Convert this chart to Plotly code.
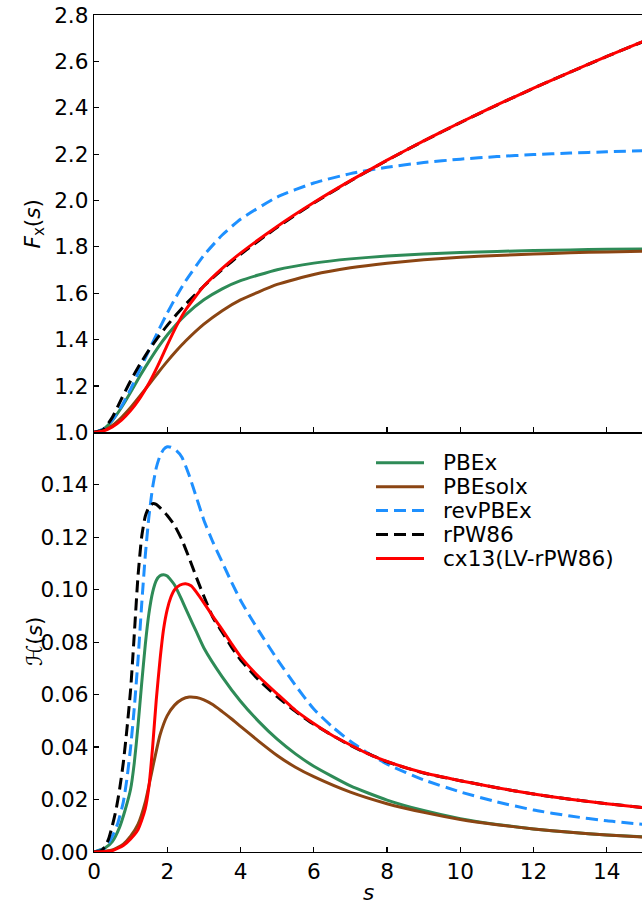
import plotly.graph_objects as go
from plotly.subplots import make_subplots

# ---------------- top panel: F_x(s) ----------------
s_top = [0, 0.25, 0.5, 0.75, 1.0, 1.25, 1.5, 1.75, 2.0, 2.25, 2.5, 3.0, 3.5, 4.0, 5, 6, 7, 8, 9, 10, 11, 12, 13, 14, 15]
F_pbe = [1.0, 1.0135, 1.0514, 1.1070, 1.1724, 1.2418, 1.3059, 1.3666, 1.4197, 1.4665, 1.5069, 1.5714, 1.6189, 1.6542,
         1.7013, 1.7298, 1.7481, 1.7605, 1.7692, 1.7756, 1.7804, 1.7841, 1.7869, 1.7893, 1.7911]
F_pbesol = [1.0, 1.0076, 1.0297, 1.0639, 1.1070, 1.1560, 1.2064, 1.2571, 1.3059, 1.3516, 1.3937, 1.4665, 1.5249, 1.5714,
            1.6378, 1.6808, 1.7097, 1.7297, 1.7442, 1.7548, 1.7629, 1.7692, 1.7742, 1.7781, 1.7814]
F_revpbe = [1.0, 1.0136, 1.0526, 1.1123, 1.1866, 1.2701, 1.3536, 1.4360, 1.5149, 1.5865, 1.6527, 1.7637, 1.8510, 1.9192,
            2.0148, 2.0755, 2.1158, 2.1436, 2.1635, 2.1782, 2.1893, 2.1978, 2.2046, 2.2100, 2.2144]
F_rpw86 = [1.0, 1.0113, 1.0644, 1.1443, 1.2224, 1.2923, 1.3545, 1.4104, 1.4614, 1.5083, 1.5519, 1.6312, 1.7024, 1.7675,
           1.8845, 1.9889, 2.0843, 2.1731, 2.2566, 2.3359, 2.4117, 2.4841, 2.5539, 2.6211, 2.6861]
F_cx13 = [1.0, 1.0059, 1.0236, 1.0528, 1.0937, 1.1465, 1.2117, 1.2898, 1.3761, 1.4582, 1.5276, 1.6306, 1.7074, 1.7728,
          1.8880, 1.9910, 2.0855, 2.1739, 2.2572, 2.3364, 2.4120, 2.4843, 2.5540, 2.6212, 2.6862]

# ---------------- bottom panel: H(s) ----------------
s_pbe = [0, 0.3, 0.5, 0.7, 0.85, 1.0, 1.1, 1.2, 1.3, 1.4, 1.5, 1.6, 1.7, 1.8, 1.9, 2.0, 2.2, 2.4, 2.6, 2.8, 3.0,
         3.5, 4.0, 4.5, 5, 5.5, 6, 7, 8, 9, 10, 11, 12, 13, 14, 15]
H_pbe = [0, 0.0015, 0.004, 0.0095, 0.016, 0.024, 0.034, 0.048, 0.064, 0.079, 0.091, 0.099, 0.1035, 0.1053, 0.1057,
         0.1052, 0.1018, 0.0960, 0.0898, 0.0838, 0.0778, 0.0668, 0.0575, 0.0497, 0.0430, 0.0374, 0.0327, 0.0252,
         0.0198, 0.0158, 0.0127, 0.0105, 0.0088, 0.0075, 0.0065, 0.0058]

s_pbesol = [0, 0.5, 0.8, 1.0, 1.2, 1.4, 1.6, 1.8, 2.0, 2.2, 2.4, 2.6, 2.8, 3.0, 3.25, 3.5, 3.75, 4.0, 4.5, 5, 5.5,
            6, 7, 8, 9, 10, 11, 12, 13, 14, 15]
H_pbesol = [0, 0.0008, 0.003, 0.006, 0.0105, 0.019, 0.032, 0.0445, 0.0520, 0.0560, 0.0582, 0.0591, 0.0589, 0.0580,
            0.0561, 0.0535, 0.0508, 0.0479, 0.0422, 0.0368, 0.0323, 0.0287, 0.0228, 0.0184, 0.0151, 0.0124, 0.0104,
            0.0088, 0.0075, 0.0065, 0.0057]

s_revpbe = [0, 0.3, 0.5, 0.65, 0.8, 0.9, 1.0, 1.1, 1.2, 1.3, 1.4, 1.5, 1.6, 1.7, 1.8, 1.9, 2.0, 2.1, 2.25, 2.4, 2.6,
            2.8, 3.0, 3.25, 3.5, 3.75, 4.0, 4.25, 4.5, 5, 5.5, 6, 6.5, 7, 7.5, 8, 9, 10, 11, 12, 13, 14, 15]
H_revpbe = [0, 0.0015, 0.006, 0.011, 0.019, 0.028, 0.040, 0.055, 0.073, 0.094, 0.113, 0.128, 0.139, 0.1465, 0.151,
            0.1535, 0.1545, 0.1543, 0.1530, 0.1505, 0.1435, 0.1350, 0.1265, 0.1180, 0.1105, 0.1030, 0.0960, 0.0900,
            0.0843, 0.0735, 0.0635, 0.0545, 0.0478, 0.0422, 0.0375, 0.0335, 0.0275, 0.0229, 0.0191, 0.0160, 0.0137,
            0.0119, 0.0105]

s_rpw86 = [0, 0.2, 0.3, 0.4, 0.5, 0.6, 0.7, 0.8, 0.9, 1.0, 1.1, 1.2, 1.3, 1.4, 1.5, 1.6, 1.7, 1.8, 2.0, 2.2, 2.4,
           2.6, 2.8, 3.0, 3.25, 3.5, 3.75, 4.0, 4.5, 5, 5.5, 6, 7, 8, 9, 10, 11, 12, 13, 14, 15]
H_rpw86 = [0, 0.0005, 0.002, 0.005, 0.010, 0.016, 0.024, 0.034, 0.047, 0.062, 0.083, 0.105, 0.120, 0.128, 0.1315,
           0.1328, 0.1325, 0.1313, 0.1283, 0.1245, 0.1190, 0.1120, 0.1045, 0.0975, 0.0893, 0.0838, 0.0782, 0.0733,
           0.0655, 0.0592, 0.0536, 0.0487, 0.0406, 0.0344, 0.0301, 0.0272, 0.0245, 0.0221, 0.0201, 0.0184, 0.0169]

s_cx13 = [0, 0.5, 0.8, 1.0, 1.2, 1.3, 1.4, 1.5, 1.6, 1.7, 1.8, 1.9, 2.0, 2.1, 2.2, 2.35, 2.5, 2.65, 2.8, 3.0, 3.25,
          3.5, 3.75, 4.0, 4.5, 5, 5.5, 6, 6.5, 7, 7.5, 8, 9, 10, 11, 12, 13, 14, 15]
H_cx13 = [0, 0.0005, 0.0025, 0.005, 0.0085, 0.012, 0.0165, 0.025, 0.040, 0.058, 0.073, 0.085, 0.0925, 0.0972,
          0.1000, 0.1018, 0.1023, 0.1015, 0.0990, 0.0950, 0.0897, 0.0848, 0.0795, 0.0745, 0.0668, 0.0603, 0.0540,
          0.0490, 0.0445, 0.0408, 0.0373, 0.0345, 0.0302, 0.0272, 0.0245, 0.0221, 0.0201, 0.0184, 0.0169]

names = ["PBEx", "PBEsolx", "revPBEx", "rPW86", "cx13(LV-rPW86)"]
colors = ["#2E8B57", "#8B4513", "#1E90FF", "#000000", "#FF0000"]
dashes = ["solid", "solid", "12px,6px", "12px,6px", "solid"]
top_F = [F_pbe, F_pbesol, F_revpbe, F_rpw86, F_cx13]
bot_s = [s_pbe, s_pbesol, s_revpbe, s_rpw86, s_cx13]
bot_H = [H_pbe, H_pbesol, H_revpbe, H_rpw86, H_cx13]

FONT = "DejaVu Sans"
FS = 21.6
LW = 3

# plot-area geometry (pixels)
W, H = 642, 906
L, R, T, B = 94, 0, 15, 54
PW, PH = W - L - R, H - T - B


def px_x(p):
    return (p - L) / PW


def px_y(p):
    return (H - B - p) / PH


fig = make_subplots(rows=2, cols=1, shared_xaxes=True, vertical_spacing=0,
                    row_heights=[0.4986, 0.5014])

for i in range(5):
    fig.add_trace(go.Scatter(x=s_top, y=top_F[i], mode="lines", showlegend=False,
                             line=dict(color=colors[i], width=LW, dash=dashes[i], shape="spline", smoothing=0.5)),
                  row=1, col=1)
for i in range(5):
    fig.add_trace(go.Scatter(x=bot_s[i], y=bot_H[i], mode="lines", name=names[i], showlegend=False,
                             line=dict(color=colors[i], width=LW, dash=dashes[i], shape="spline", smoothing=0.5)),
                  row=2, col=1)

axis_common = dict(showline=True, linecolor="black", linewidth=1.2, ticks="inside", ticklen=5, tickwidth=1.2,
                   tickcolor="black", showgrid=False, zeroline=False, automargin=False,
                   tickfont=dict(family=FONT, size=FS, color="black"))

fig.update_xaxes(range=[0, 14.96], tickvals=[0, 2, 4, 6, 8, 10, 12, 14], **axis_common)
fig.update_xaxes(showticklabels=False, mirror=True, row=1, col=1)
fig.update_xaxes(mirror=False, row=2, col=1)
fig.update_yaxes(mirror=False, **axis_common)
fig.update_yaxes(range=[1.0, 2.8], tickvals=[1.0, 1.2, 1.4, 1.6, 1.8, 2.0, 2.2, 2.4, 2.6, 2.8], tickformat=".1f",
                 row=1, col=1)
fig.update_yaxes(range=[0, 0.16], tickvals=[0, 0.02, 0.04, 0.06, 0.08, 0.10, 0.12, 0.14], tickformat=".2f",
                 row=2, col=1)

annotations = [
    dict(text="<i>s</i>", x=px_x(368), y=px_y(892), xref="paper", yref="paper", showarrow=False,
         xanchor="center", yanchor="middle", font=dict(family=FONT, size=FS, color="black")),
    dict(text="<i>F</i><sub>x</sub>(<i>s</i>)", x=px_x(34), y=px_y(223.5), xref="paper", yref="paper",
         showarrow=False, textangle=-90, xanchor="center", yanchor="middle",
         font=dict(family=FONT, size=FS, color="black")),
    dict(text="ℋ(<i>s</i>)", x=px_x(34), y=px_y(642), xref="paper", yref="paper",
         showarrow=False, textangle=-90, xanchor="center", yanchor="middle",
         font=dict(family=FONT, size=FS, color="black")),
]
shapes = []
leg_rows = [462.7, 486.7, 510.5, 534.5, 558.5]
for i in range(5):
    shapes.append(dict(type="line", xref="paper", yref="paper", x0=px_x(376), x1=px_x(424),
                       y0=px_y(leg_rows[i]), y1=px_y(leg_rows[i]),
                       line=dict(color=colors[i], width=LW, dash=dashes[i])))
    annotations.append(dict(text=names[i], x=px_x(441), y=px_y(leg_rows[i]), xref="paper", yref="paper",
                            showarrow=False, xanchor="left", yanchor="middle",
                            font=dict(family=FONT, size=FS, color="black")))

fig.update_layout(
    width=W, height=H,
    margin=dict(l=L, r=R, t=T, b=B),
    paper_bgcolor="white", plot_bgcolor="white",
    font=dict(family=FONT, size=FS, color="black"),
    showlegend=False,
    annotations=annotations,
    shapes=shapes,
)

fig.write_html("out.html", config={"displayModeBar": False, "staticPlot": True},
               post_script="document.body.style.margin='0';document.body.style.overflow='hidden';")
